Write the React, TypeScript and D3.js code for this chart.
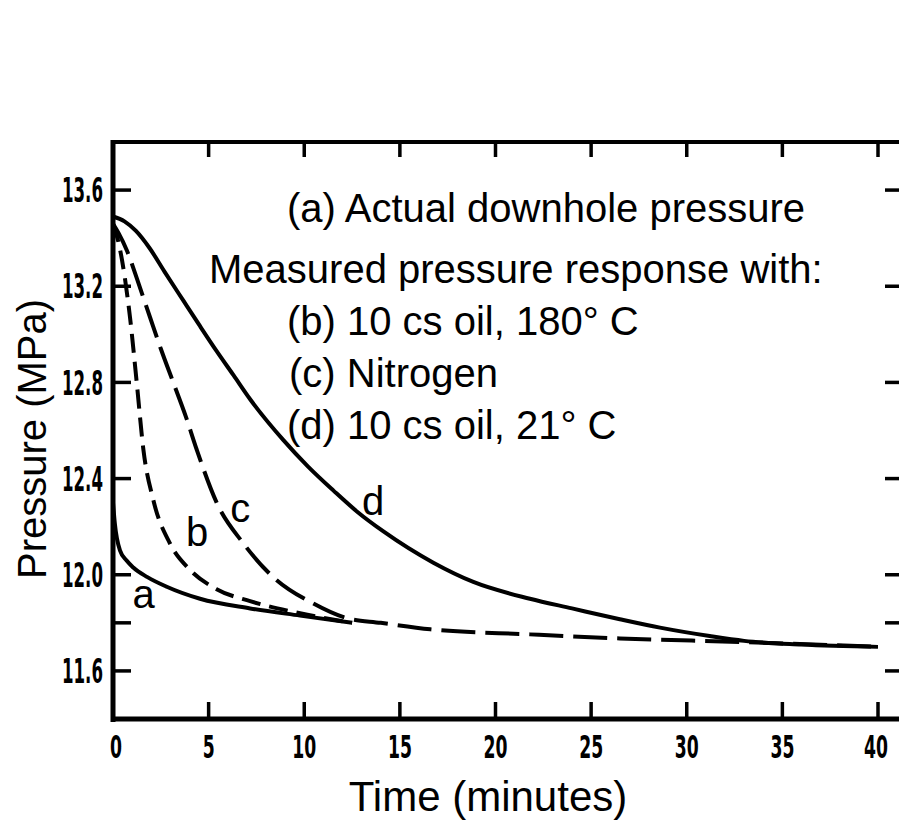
import React from 'react';
import * as d3 from 'd3';

// values (time in minutes, pressure in MPa)
const aTime = [0, 0.1, 0.37, 0.7, 1.06, 1.8, 2.81, 4.55, 7.17, 9.78, 12.5];
const aPressure = [12.3, 12.21, 12.1, 12.06, 12.03, 11.99, 11.95, 11.9, 11.86, 11.83, 11.8];

const bTime = [0, 0.35, 0.89, 1.24, 1.59, 2.11, 2.98, 4.03, 5.42, 7.17, 9.78, 12.5];
const bPressure = [13.46, 13.36, 13.07, 12.8, 12.52, 12.31, 12.13, 12.02, 11.94, 11.89, 11.84, 11.8];

const cTime = [0, 0.3, 0.72, 1.3, 1.94, 2.5, 3.15, 3.8, 4.38, 5.42, 6.82, 8.38, 10.48, 12.2, 14, 16.6, 21.8, 26.5, 33, 40];
const cPressure = [13.46, 13.42, 13.35, 13.22, 13.07, 12.94, 12.8, 12.66, 12.52, 12.3, 12.13, 11.99, 11.88, 11.82, 11.8, 11.773, 11.752, 11.735, 11.72, 11.7];

const dTime = [0, 0.6, 1.2, 1.9, 2.7, 3.68, 4.5, 5.42, 6.3, 7.17, 8.91, 10.2, 11.53, 12.8, 14.14, 16.75, 18.84, 21.8, 24, 26.5, 28.6, 31.2, 33, 36, 40];
const dPressure = [13.49, 13.47, 13.43, 13.36, 13.26, 13.14, 13.04, 12.93, 12.83, 12.73, 12.56, 12.45, 12.35, 12.26, 12.18, 12.05, 11.97, 11.9, 11.86, 11.815, 11.78, 11.745, 11.725, 11.71, 11.7];

const xTicks = [0, 5, 10, 15, 20, 25, 30, 35, 40];
const yTicks = [11.6, 12.0, 12.4, 12.8, 13.2, 13.6];
const yMinorTicks = [11.8];

const legendLines = [
  '(a) Actual downhole pressure',
  'Measured pressure response with:',
  '(b) 10 cs oil, 180° C',
  '(c) Nitrogen',
  '(d) 10 cs oil, 21° C',
];

const W = 899;
const H = 820;

export default function App() {
  const x = d3.scaleLinear().domain([0, 40]).range([113, 878]);
  const y = d3.scaleLinear().domain([11.4, 13.8]).range([719, 142]);
  const xRight = 905;

  const line = d3
    .line<[number, number]>()
    .x((d) => x(d[0]))
    .y((d) => y(d[1]))
    .curve(d3.curveMonotoneX);

  const zip = (t: number[], p: number[]) => t.map((v, i) => [v, p[i]] as [number, number]);

  const curves = [
    { key: 'a', pts: zip(aTime, aPressure), dash: null },
    { key: 'b', pts: zip(bTime, bPressure), dash: '19,9' },
    { key: 'c', pts: zip(cTime, cPressure), dash: '34,10' },
    { key: 'd', pts: zip(dTime, dPressure), dash: null },
  ];

  // curve letters, placed next to each curve
  const curveLabels = [
    { t: 'a', at: [1.6, 11.86] },
    { t: 'b', at: [4.4, 12.12] },
    { t: 'c', at: [6.65, 12.22] },
    { t: 'd', at: [13.6, 12.25] },
  ];

  const legendX = [287, 209, 287, 289, 287];
  const legendY = [222, 283, 335, 387, 439];

  const sans = '"Liberation Sans", Arial, sans-serif';
  const narrow = '"Liberation Sans Narrow", "DejaVu Sans Condensed", "Liberation Sans", sans-serif';

  return (
    <div style={{ position: 'absolute', left: 0, top: 0 }}>
      <svg width={W} height={H} style={{ display: 'block', background: '#fff' }}>
        {/* frame */}
        <line x1={x(0)} x2={x(0)} y1={y(13.8) - 2} y2={y(11.4) + 3} stroke="#000" strokeWidth={5} />
        <line x1={x(0) - 2} x2={xRight} y1={y(11.4)} y2={y(11.4)} stroke="#000" strokeWidth={5} />
        <line x1={x(0) - 2} x2={xRight} y1={y(13.8)} y2={y(13.8)} stroke="#000" strokeWidth={4} />
        <line x1={xRight} x2={xRight} y1={y(13.8)} y2={y(11.4)} stroke="#000" strokeWidth={4} />

        {/* x ticks, bottom and top */}
        {xTicks.filter((t) => t > 0).map((t) => (
          <g key={'xt' + t}>
            <line x1={x(t)} x2={x(t)} y1={y(11.4)} y2={y(11.4) - 17} stroke="#000" strokeWidth={3.5} />
            <line x1={x(t)} x2={x(t)} y1={y(13.8)} y2={y(13.8) + 15} stroke="#000" strokeWidth={3.5} />
          </g>
        ))}
        {xTicks.map((t) => (
          <text
            key={'xl' + t}
            x={x(t) + (t === 0 ? 3 : t === 40 ? -2 : 0)}
            y={758}
            textAnchor="middle"
            fontFamily={narrow}
            fontWeight="bold"
            fontSize={32}
            textLength={String(t).length * 12}
            lengthAdjust="spacingAndGlyphs"
          >
            {t}
          </text>
        ))}

        {/* y ticks, left and right */}
        {[...yTicks, ...yMinorTicks].map((v) => (
          <g key={'yt' + v}>
            <line x1={x(0)} x2={x(0) + 18} y1={y(v)} y2={y(v)} stroke="#000" strokeWidth={3.5} />
            <line x1={xRight} x2={xRight - 20} y1={y(v)} y2={y(v)} stroke="#000" strokeWidth={3.5} />
          </g>
        ))}
        {yTicks.map((v) => (
          <text
            key={'yl' + v}
            x={103}
            y={y(v)}
            dy="0.36em"
            textAnchor="end"
            fontFamily={narrow}
            fontWeight="bold"
            fontSize={34}
            textLength={41}
            lengthAdjust="spacingAndGlyphs"
          >
            {v.toFixed(1)}
          </text>
        ))}

        {/* curves */}
        {curves.map((c) => (
          <path
            key={c.key}
            d={line(c.pts) || ''}
            fill="none"
            stroke="#000"
            strokeWidth={4}
            strokeDasharray={c.dash || undefined}
            strokeLinecap="butt"
          />
        ))}

        {curveLabels.map((l) => (
          <text key={'cl' + l.t} x={x(l.at[0])} y={y(l.at[1])} textAnchor="middle" fontFamily={sans} fontSize={40}>
            {l.t}
          </text>
        ))}

        {/* legend text */}
        {legendLines.map((s, i) => (
          <text key={'lg' + i} x={legendX[i]} y={legendY[i]} fontFamily={sans} fontSize={40}>
            {s}
          </text>
        ))}

        {/* axis titles */}
        <text x={488} y={811} textAnchor="middle" fontFamily={sans} fontSize={42}>
          Time (minutes)
        </text>
        <text
          transform="translate(46,439) rotate(-90)"
          textAnchor="middle"
          fontFamily={sans}
          fontSize={40}
        >
          Pressure (MPa)
        </text>
      </svg>
    </div>
  );
}
